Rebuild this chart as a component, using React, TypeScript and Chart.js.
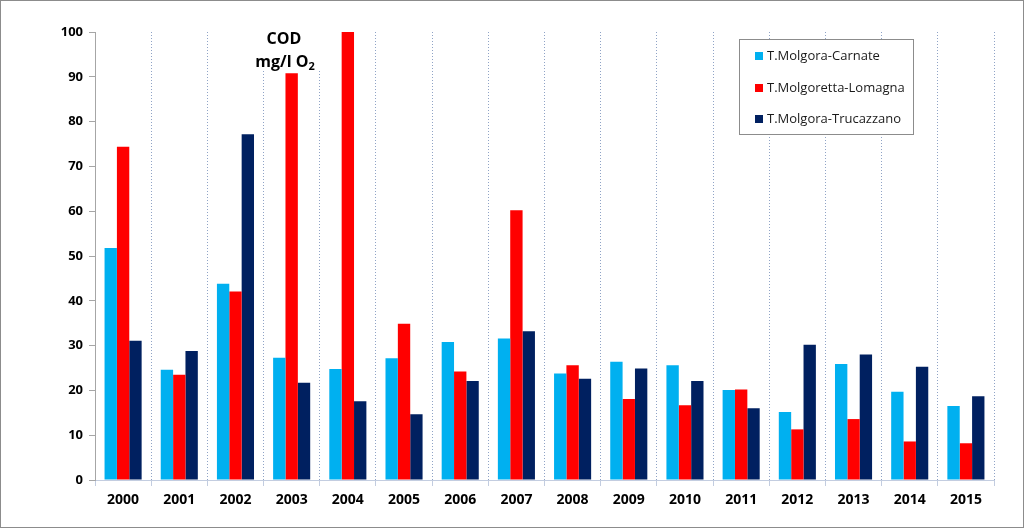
import React, { useEffect, useRef } from "react";
import { Chart, registerables } from "chart.js";

Chart.register(...registerables);

const years = ["2000","2001","2002","2003","2004","2005","2006","2007","2008","2009","2010","2011","2012","2013","2014","2015"];
const carnate = [51.8, 24.6, 43.8, 27.3, 24.8, 27.2, 30.8, 31.6, 23.8, 26.4, 25.6, 20.1, 15.2, 25.9, 19.7, 16.5];
const lomagna = [74.4, 23.5, 42.1, 90.8, 100, 34.9, 24.2, 60.2, 25.6, 18.1, 16.7, 20.2, 11.3, 13.6, 8.6, 8.2];
const trucazzano = [31.1, 28.8, 77.2, 21.7, 17.6, 14.7, 22.1, 33.2, 22.6, 24.9, 22.1, 16.0, 30.2, 28.0, 25.3, 18.7];
const seriesNames = ["T.Molgora-Carnate", "T.Molgoretta-Lomagna", "T.Molgora-Trucazzano"];
const seriesColors = ["#00b0f0", "#ff0000", "#002060"];

const FONT = "'Open Sans', 'DejaVu Sans', sans-serif";

const titlePlugin = {
  id: "codTitle",
  beforeDatasetsDraw(chart: any) {
    const ctx = chart.ctx;
    ctx.save();
    ctx.fillStyle = "#ffffff";
    ctx.fillRect(248, 26, 72, 44);
    ctx.fillStyle = "#000000";
    ctx.font = `bold 16px ${FONT}`;
    ctx.textAlign = "center";
    ctx.textBaseline = "middle";
    ctx.fillText("COD", 283, 38);
    const main = "mg/l O";
    const w = ctx.measureText(main).width;
    ctx.font = `bold 11px ${FONT}`;
    const ws = ctx.measureText("2").width;
    const start = 284 - (w + ws) / 2;
    ctx.font = `bold 16px ${FONT}`;
    ctx.textAlign = "left";
    ctx.fillText(main, start, 61);
    ctx.font = `bold 11px ${FONT}`;
    ctx.fillText("2", start + w, 66);
    ctx.restore();
  },
};

const legendPlugin = {
  id: "boxLegend",
  afterDraw(chart: any) {
    const ctx = chart.ctx;
    ctx.save();
    ctx.fillStyle = "#ffffff";
    ctx.fillRect(738.5, 38.5, 174, 95);
    ctx.strokeStyle = "#8c8c8c";
    ctx.lineWidth = 1;
    ctx.strokeRect(738.5, 38.5, 174, 95);
    ctx.font = `13px ${FONT}`;
    ctx.textBaseline = "middle";
    ctx.textAlign = "left";
    const ys = [55, 87, 118];
    seriesNames.forEach((n, i) => {
      ctx.fillStyle = seriesColors[i];
      ctx.fillRect(754, ys[i] - 4, 8, 8);
      ctx.fillStyle = "#1a1a1a";
      ctx.fillText(n, 766, ys[i]);
    });
    ctx.restore();
  },
};

export default function App() {
  const ref = useRef<HTMLCanvasElement>(null);
  useEffect(() => {
    document.body.style.margin = "0";
    const chart = new Chart(ref.current as HTMLCanvasElement, {
      type: "bar",
      data: {
        labels: years,
        datasets: seriesNames.map((n, i) => ({
          label: n,
          data: [carnate, lomagna, trucazzano][i],
          backgroundColor: seriesColors[i],
          borderWidth: 0,
          barPercentage: 1,
          categoryPercentage: 0.66,
        })),
      },
      options: {
        animation: false,
        responsive: false,
        maintainAspectRatio: false,
        layout: { padding: { left: 0, right: 29, top: 31, bottom: 0 } },
        plugins: { legend: { display: false }, tooltip: { enabled: false }, title: { display: false } },
        scales: {
          x: {
            grid: {
              display: true,
              offset: true,
              color: "#8fa3c6",
              lineWidth: 1,
              tickLength: 6,
              drawTicks: true,
              tickColor: "#c3cde0",
            },
            border: { display: true, color: "#c3cde0", dash: [1, 2] },
            ticks: { color: "#000", font: { family: FONT, size: 14, weight: "bold" }, padding: 6 },
            afterFit(scale: any) { scale.height = 47; },
          },
          y: {
            min: 0,
            max: 100,
            ticks: { stepSize: 10, color: "#000", font: { family: FONT, size: 13, weight: "bold" }, padding: 6 },
            grid: { drawOnChartArea: false, tickLength: 6, color: "#a6a6a6" },
            border: { display: true, color: "#a6a6a6" },
            afterFit(scale: any) { scale.width = 94; },
          },
        },
      },
      plugins: [titlePlugin, legendPlugin],
    } as any);
    return () => chart.destroy();
  }, []);
  return (
    <div style={{ position: "absolute", left: 0, top: 0, width: 1024, height: 528, border: "1px solid #8c8c8c", boxSizing: "border-box", background: "#fff" }}>
      <canvas ref={ref} width={1022} height={526} style={{ display: "block" }} />
    </div>
  );
}
